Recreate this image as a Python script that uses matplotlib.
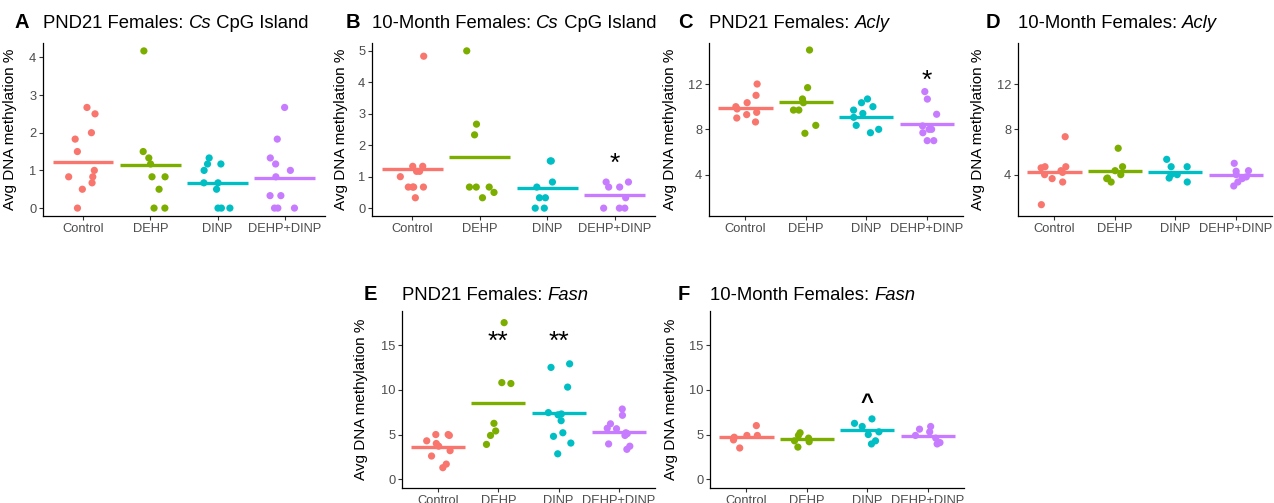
import numpy as np
import matplotlib
matplotlib.use('Agg')
from matplotlib import pyplot as plt

plt.rcParams['font.family'] = ['Liberation Sans', 'DejaVu Sans']

# Groups and colours (ggplot default hue)
groups = ['Control', 'DEHP', 'DINP', 'DEHP+DINP']
colors = ['#F8766D', '#7CAE00', '#00BFC4', '#C77CFF']

# Panel A: PND21 Females, Cs CpG Island
a_control = [2.67, 2.5, 2.0, 1.83, 1.5, 1.0, 0.83, 0.83, 0.67, 0.5, 0.0]
a_dehp = [4.17, 1.5, 1.33, 1.17, 0.83, 0.83, 0.5, 0.0, 0.0]
a_dinp = [1.33, 1.17, 1.17, 1.0, 0.67, 0.67, 0.5, 0.0, 0.0, 0.0]
a_combo = [2.67, 1.83, 1.33, 1.17, 1.0, 0.83, 0.33, 0.33, 0.0, 0.0, 0.0]
a_means = [1.23, 1.15, 0.66, 0.79]

# Panel B: 10-Month Females, Cs CpG Island
b_control = [4.83, 1.33, 1.33, 1.17, 1.17, 1.0, 0.67, 0.67, 0.67, 0.67, 0.33]
b_dehp = [5.0, 2.67, 2.33, 0.67, 0.67, 0.67, 0.5, 0.33]
b_dinp = [1.5, 1.5, 0.83, 0.67, 0.33, 0.33, 0.0, 0.0]
b_combo = [0.83, 0.83, 0.67, 0.67, 0.33, 0.0, 0.0, 0.0]
b_means = [1.24, 1.61, 0.63, 0.42]

# Panel C: PND21 Females, Acly
c_control = [12.0, 11.0, 10.35, 10.0, 9.8, 9.5, 9.3, 9.0, 8.65]
c_dehp = [15.0, 11.68, 10.68, 10.35, 9.7, 9.7, 8.35, 7.65]
c_dinp = [10.68, 10.35, 10.0, 9.7, 9.4, 9.06, 8.35, 8.0, 7.7]
c_combo = [11.33, 10.67, 9.33, 8.3, 8.0, 8.0, 7.7, 7.0, 7.0]
c_means = [9.88, 10.41, 9.12, 8.47]

# Panel D: 10-Month Females, Acly
d_control = [7.35, 4.7, 4.7, 4.6, 4.35, 4.2, 4.0, 3.65, 3.35, 1.35]
d_dehp = [6.33, 4.7, 4.35, 4.0, 3.7, 3.65, 3.35]
d_dinp = [5.35, 4.7, 4.7, 4.0, 4.0, 3.7, 3.35]
d_combo = [5.0, 4.35, 4.3, 4.0, 3.8, 3.65, 3.35, 3.0]
d_means = [4.24, 4.35, 4.2, 4.0]

# Panel E: PND21 Females, Fasn
e_control = [5.0, 5.0, 4.9, 4.3, 4.0, 3.7, 3.2, 2.6, 1.7, 1.3]
e_dehp = [17.5, 10.8, 10.7, 6.25, 5.4, 4.9, 3.9]
e_dinp = [12.5, 12.9, 10.3, 7.45, 7.3, 7.2, 6.55, 5.2, 4.8, 4.05, 2.85]
e_combo = [7.85, 7.15, 6.2, 5.7, 5.65, 5.2, 5.1, 4.9, 3.95, 3.7, 3.35]
e_means = [3.6, 8.5, 7.37, 5.28]

# Panel F: 10-Month Females, Fasn
f_control = [6.0, 4.9, 4.9, 4.7, 4.6, 4.4, 3.5]
f_dehp = [5.2, 4.9, 4.6, 4.3, 4.2, 3.6]
f_dinp = [6.75, 6.25, 5.9, 5.3, 5.0, 4.3, 3.95]
f_combo = [5.9, 5.6, 5.3, 4.9, 4.6, 4.1, 3.95]
f_means = [4.7, 4.47, 5.47, 4.84]

# Significance marks: (group index, height, symbol)
b_marks = [(3, 1.4, '*')]
c_marks = [(3, 12.3, '*')]
e_marks = [(1, 15.4, '**'), (2, 15.4, '**')]
f_marks = [(2, 8.5, '^')]

W, H = 1274, 503
fig = plt.figure(figsize=(W / 100, H / 100), dpi=100)

# letter, title parts, data, means, marks, axes px (left, right, top, bottom), ylim, yticks, ylabel x, letter x, title y
panels = [
    ('A', 'PND21 Females: ', 'Cs', ' CpG Island', [a_control, a_dehp, a_dinp, a_combo], a_means, [],
     (43, 325, 43, 216), (-0.21, 4.38), [0, 1, 2, 3, 4], 17, 14, 28),
    ('B', '10-Month Females: ', 'Cs', ' CpG Island', [b_control, b_dehp, b_dinp, b_combo], b_means, b_marks,
     (372, 655, 43, 216), (-0.25, 5.25), [0, 1, 2, 3, 4, 5], 348, 346, 28),
    ('C', 'PND21 Females: ', 'Acly', '', [c_control, c_dehp, c_dinp, c_combo], c_means, c_marks,
     (709, 963, 43, 216), (0.35, 15.62), [4, 8, 12], 677, 678, 28),
    ('D', '10-Month Females: ', 'Acly', '', [d_control, d_dehp, d_dinp, d_combo], d_means, [],
     (1018, 1272, 43, 216), (0.35, 15.62), [4, 8, 12], 985, 986, 28),
    ('E', 'PND21 Females: ', 'Fasn', '', [e_control, e_dehp, e_dinp, e_combo], e_means, e_marks,
     (402, 655, 311, 488), (-0.97, 18.8), [0, 5, 10, 15], 368, 364, 300),
    ('F', '10-Month Females: ', 'Fasn', '', [f_control, f_dehp, f_dinp, f_combo], f_means, f_marks,
     (710, 964, 311, 488), (-0.97, 18.8), [0, 5, 10, 15], 678, 678, 300),
]

rng = np.random.default_rng(7)

for (letter, t1, t2, t3, data, means, marks, px, ylim, yticks, ylab_x, let_x, title_y) in panels:
    l, r, t, b = px
    ax = fig.add_axes([l / W, (H - b) / H, (r - l) / W, (b - t) / H])
    for i, vals in enumerate(data):
        jit = rng.uniform(-0.22, 0.22, len(vals))
        ax.hlines(means[i], i - 0.45, i + 0.45, color=colors[i], lw=2.4, zorder=2)
        ax.scatter(i + jit, vals, s=27, color=colors[i], edgecolor='none', zorder=3)
    for gi, yv, sym in marks:
        if sym == '^':
            ax.text(gi, yv, sym, ha='center', va='center', fontsize=16, fontweight='bold')
        else:
            ax.text(gi, yv, sym, ha='center', va='center', fontsize=19)
    ax.set_xlim(-0.6, 3.6)
    ax.set_ylim(ylim)
    ax.set_xticks(range(4))
    ax.set_xticklabels(groups)
    ax.set_yticks(yticks)
    ax.spines['top'].set_visible(False)
    ax.spines['right'].set_visible(False)
    ax.spines['left'].set_linewidth(0.9)
    ax.spines['bottom'].set_linewidth(0.9)
    ax.tick_params(axis='both', length=2.8, width=0.8, color='#333333', labelcolor='#4D4D4D',
                   labelsize=9.3, pad=2)
    ax.set_ylabel('Avg DNA methylation %', fontsize=11)
    ax.yaxis.set_label_coords((ylab_x - l) / (r - l), 0.5)

    # panel letter and title with italic gene name
    fig.text(let_x / W, (H - title_y) / H, letter, fontsize=14.5, fontweight='bold', va='baseline')
    tx = fig.text(l / W, (H - title_y) / H, t1, fontsize=13.3, va='baseline')
    fig.canvas.draw()
    bb = tx.get_window_extent()
    tx2 = fig.text(bb.x1 / W, (H - title_y) / H, t2, fontsize=13.3, style='italic', va='baseline')
    if t3:
        fig.canvas.draw()
        bb2 = tx2.get_window_extent()
        fig.text(bb2.x1 / W, (H - title_y) / H, t3, fontsize=13.3, va='baseline')

fig.savefig('out.png', dpi=100)
